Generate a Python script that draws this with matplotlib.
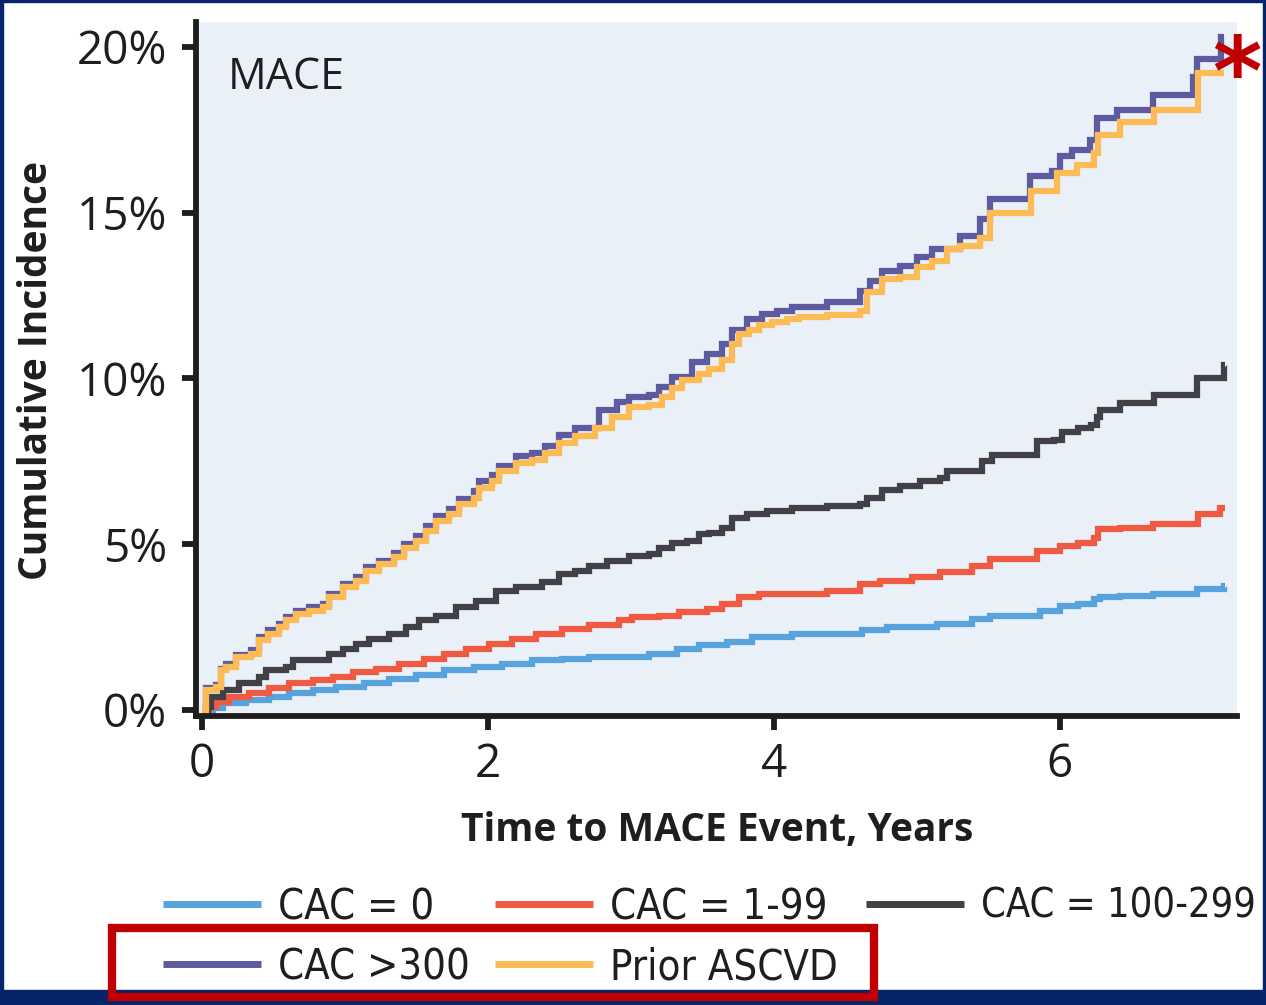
import numpy as np
import matplotlib

matplotlib.use("Agg")
import matplotlib.pyplot as plt
from matplotlib.patches import Rectangle

# Cumulative incidence (%) at step knots (years).
cac0_t = [0, 0.08, 0.15, 0.31, 0.47, 0.61, 0.78, 0.94, 1.13, 1.31, 1.5, 1.69, 1.9, 2.1, 2.31,
          2.52, 2.71, 3.13, 3.32, 3.48, 3.67, 3.85, 4.13, 4.62, 4.79, 5.14, 5.39, 5.51, 5.86,
          6.0, 6.13, 6.24, 6.28, 6.42, 6.65, 6.96, 7.15, 7.16]
cac0_y = [0, 0.05, 0.2, 0.3, 0.4, 0.5, 0.6, 0.7, 0.8, 0.95, 1.05, 1.2, 1.3, 1.4, 1.5,
          1.55, 1.6, 1.7, 1.85, 1.95, 2.05, 2.2, 2.3, 2.4, 2.5, 2.6, 2.75, 2.85, 3.0,
          3.15, 3.2, 3.35, 3.4, 3.45, 3.5, 3.65, 3.75, 3.75]

cac1_t = [0, 0.05, 0.1, 0.19, 0.33, 0.47, 0.61, 0.78, 0.92, 1.06, 1.22, 1.38, 1.55, 1.69, 1.85,
          2.01, 2.17, 2.34, 2.52, 2.71, 2.92, 3.01, 3.2, 3.34, 3.53, 3.64, 3.76, 3.9, 4.37, 4.6,
          4.74, 4.97, 5.16, 5.39, 5.51, 5.84, 6.0, 6.13, 6.24, 6.27, 6.42, 6.65, 6.97, 7.12, 7.16]
cac1_y = [0, 0.1, 0.25, 0.4, 0.5, 0.65, 0.8, 0.9, 1.0, 1.15, 1.25, 1.4, 1.55, 1.7, 1.85,
          2.0, 2.15, 2.3, 2.45, 2.55, 2.7, 2.8, 2.85, 2.95, 3.05, 3.2, 3.4, 3.5, 3.6, 3.8,
          3.9, 4.0, 4.15, 4.35, 4.55, 4.8, 4.95, 5.05, 5.2, 5.45, 5.5, 5.6, 5.9, 6.1, 6.1]

cac2_t = [0, 0.04, 0.06, 0.15, 0.26, 0.4, 0.45, 0.59, 0.64, 0.89, 0.99, 1.08, 1.17, 1.31, 1.43,
          1.52, 1.64, 1.78, 1.92, 2.06, 2.2, 2.38, 2.5, 2.61, 2.71, 2.83, 2.99, 3.13, 3.2, 3.29,
          3.39, 3.48, 3.55, 3.64, 3.71, 3.81, 3.95, 4.13, 4.37, 4.6, 4.65, 4.76, 4.88, 5.02, 5.16,
          5.21, 5.46, 5.53, 5.84, 5.96, 6.02, 6.13, 6.22, 6.26, 6.28, 6.42, 6.66, 6.96, 7.15, 7.16]
cac2_y = [0, 0.1, 0.4, 0.6, 0.8, 1.0, 1.2, 1.3, 1.5, 1.7, 1.85, 2.0, 2.15, 2.3, 2.5,
          2.7, 2.85, 3.1, 3.3, 3.6, 3.7, 3.85, 4.1, 4.2, 4.35, 4.5, 4.65, 4.7, 4.9, 5.05,
          5.1, 5.3, 5.35, 5.5, 5.8, 5.9, 6.0, 6.1, 6.15, 6.2, 6.4, 6.65, 6.75, 6.9, 7.0,
          7.2, 7.5, 7.7, 8.1, 8.15, 8.4, 8.5, 8.6, 8.85, 9.05, 9.25, 9.5, 10.0, 10.4, 10.4]

cac300_t = [0, 0.03, 0.1, 0.13, 0.17, 0.24, 0.34, 0.4, 0.46, 0.54, 0.59, 0.66, 0.75, 0.85, 0.89,
            0.99, 1.08, 1.15, 1.24, 1.34, 1.41, 1.5, 1.57, 1.64, 1.73, 1.8, 1.9, 1.94, 2.03, 2.08,
            2.2, 2.31, 2.4, 2.5, 2.61, 2.78, 2.9, 2.99, 3.13, 3.2, 3.29, 3.43, 3.53, 3.64, 3.71,
            3.81, 3.92, 4.02, 4.13, 4.37, 4.6, 4.67, 4.76, 4.88, 5.0, 5.11, 5.3, 5.44, 5.51, 5.79,
            5.95, 6.0, 6.09, 6.21, 6.26, 6.4, 6.65, 6.93, 6.96, 7.13, 7.15]
cac300_y = [0, 0.65, 0.75, 1.25, 1.4, 1.65, 1.8, 2.2, 2.4, 2.6, 2.8, 3.0, 3.1, 3.2, 3.5,
            3.8, 4.0, 4.3, 4.5, 4.75, 5.0, 5.25, 5.55, 5.85, 6.05, 6.35, 6.6, 6.9, 7.1, 7.35,
            7.65, 7.75, 7.95, 8.3, 8.5, 9.05, 9.3, 9.45, 9.5, 9.75, 10.05, 10.5, 10.75, 11.05, 11.45,
            11.8, 11.95, 12.05, 12.15, 12.3, 12.65, 12.95, 13.25, 13.4, 13.65, 13.9, 14.3, 14.8, 15.4, 16.1,
            16.25, 16.7, 16.9, 17.2, 17.85, 18.1, 18.55, 19.1, 19.65, 20.3, 20.3]

prior_t = [0, 0.03, 0.1, 0.13, 0.17, 0.24, 0.34, 0.4, 0.46, 0.54, 0.59, 0.66, 0.75, 0.85, 0.89,
           0.99, 1.08, 1.15, 1.24, 1.34, 1.41, 1.5, 1.57, 1.64, 1.73, 1.8, 1.9, 1.94, 2.03, 2.08,
           2.2, 2.31, 2.4, 2.5, 2.61, 2.75, 2.87, 2.99, 3.13, 3.22, 3.29, 3.36, 3.48, 3.55, 3.64,
           3.71, 3.76, 3.83, 3.9, 3.99, 4.09, 4.18, 4.37, 4.6, 4.65, 4.76, 4.88, 5.0, 5.11, 5.21,
           5.3, 5.44, 5.51, 5.8, 5.98, 6.12, 6.24, 6.27, 6.42, 6.66, 6.97, 7.15]
prior_y = [0, 0.6, 0.7, 1.2, 1.3, 1.6, 1.7, 2.1, 2.3, 2.5, 2.7, 2.9, 3.0, 3.1, 3.4,
           3.7, 3.9, 4.2, 4.4, 4.6, 4.9, 5.1, 5.4, 5.7, 5.9, 6.2, 6.4, 6.7, 6.9, 7.2,
           7.45, 7.55, 7.75, 8.05, 8.25, 8.5, 8.85, 9.15, 9.2, 9.45, 9.7, 9.95, 10.15, 10.3, 10.55,
           11.05, 11.35, 11.45, 11.6, 11.7, 11.8, 11.85, 11.9, 12.05, 12.6, 13.0, 13.05, 13.35, 13.55, 13.9,
           14.0, 14.25, 15.0, 15.65, 16.2, 16.45, 16.8, 17.35, 17.75, 18.1, 19.2, 19.2]

labels = ["CAC = 0", "CAC = 1-99", "CAC = 100-299", "CAC >300", "Prior ASCVD"]
colors = ["#58A3DB", "#EF5A43", "#404045", "#5E5A9F", "#FDBB55"]

ink = "#1e1e1e"

fig = plt.figure(figsize=(12.66, 10.05), dpi=100)
ax = fig.add_axes([0.1548, 0.2876, 0.977 - 0.1548, 0.978 - 0.2876])
ax.set_facecolor("#EAF0F8")

series = [(cac0_t, cac0_y), (cac1_t, cac1_y), (cac2_t, cac2_y),
          (cac300_t, cac300_y), (prior_t, prior_y)]
lines = []
for (t, y), lab, col in zip(series, labels, colors):
    ln, = ax.plot(t, y, drawstyle="steps-post", color=col, lw=4.5, label=lab,
                  solid_joinstyle="miter", solid_capstyle="butt")
    lines.append(ln)

ax.set_xlim(-0.042, 7.24)
ax.set_ylim(-0.18, 20.75)
ax.set_xticks([0, 2, 4, 6])
ax.set_yticks([0, 5, 10, 15, 20])
ax.set_yticklabels(["0%", "5%", "10%", "15%", "20%"])

for s in ["top", "right"]:
    ax.spines[s].set_visible(False)
for s in ["left", "bottom"]:
    ax.spines[s].set_linewidth(4.2)
    ax.spines[s].set_color(ink)
ax.tick_params(axis="both", length=10, width=4.2, color=ink,
               labelsize=33, labelcolor=ink)
ax.tick_params(axis="y", pad=11)
ax.tick_params(axis="x", pad=9)
for lab in ax.get_xticklabels() + ax.get_yticklabels():
    lab.set_family("Open Sans")

ax.text(0.031, 0.952, "MACE", transform=ax.transAxes, fontsize=31, family="Open Sans",
        color=ink, va="top", ha="left")

fig.text(717 / 1266, 1 - 830 / 1005, "Time to MACE Event, Years", ha="center", va="center",
         fontsize=28, fontweight="bold", family="Open Sans", color=ink)
fig.text(37 / 1266, 1 - 370 / 1005, "Cumulative Incidence", ha="center", va="center",
         rotation=90, fontsize=28, fontweight="bold", family="Open Sans", color=ink)

# red asterisk next to the end of the curves
fig.text(1237 / 1266, 1 - 78 / 1005, "*", ha="center", va="center", fontsize=68,
         fontweight="bold", color="#C00000", family="DejaVu Sans")

# legend entries placed where the reference has them
legend_pos = {0: (163, 907), 1: (495, 907), 2: (866, 907), 3: (163, 967), 4: (495, 967)}
for i, (px, py) in legend_pos.items():
    size = 28.5 if i == 2 else 30
    leg = fig.legend([lines[i]], [labels[i]], loc="center left",
                     bbox_to_anchor=(px / 1266, 1 - py / 1005), frameon=False,
                     handlelength=2.35 * 30 / size, handletextpad=0.42 * 30 / size,
                     borderpad=0, borderaxespad=0,
                     prop={"family": "DejaVu Sans", "stretch": "condensed", "size": size})
    for h in leg.legend_handles:
        h.set_linewidth(5)
    for t in leg.get_texts():
        t.set_color(ink)

# dark frame around the panel
navy = "#06246A"
fig.patches.append(Rectangle((0, 0), 1, 15 / 1005, transform=fig.transFigure, color=navy))
fig.patches.append(Rectangle((0, 0), 3 / 1266, 1, transform=fig.transFigure, color=navy))
fig.patches.append(Rectangle((0, 1 - 2 / 1005), 1, 2 / 1005, transform=fig.transFigure, color=navy))
fig.patches.append(Rectangle((1 - 3 / 1266, 0), 3 / 1266, 1, transform=fig.transFigure, color=navy))

# red highlight box around the second legend row
fig.patches.append(Rectangle((112 / 1266, 1 - 997 / 1005), (874 - 112) / 1266, (997 - 928) / 1005,
                             transform=fig.transFigure, fill=False, lw=6, edgecolor="#C00000",
                             zorder=5))

fig.savefig("out.png", dpi=100)
